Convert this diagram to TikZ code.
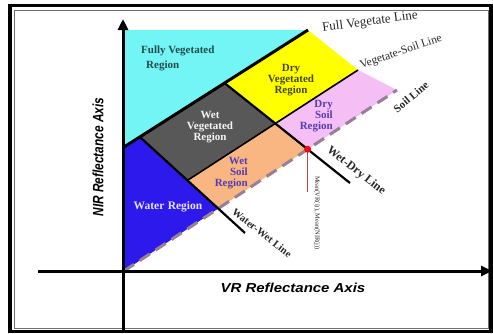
\documentclass[tikz,border=0pt]{standalone}
\usepackage{fontspec}
\setmainfont{Liberation Serif}
\setsansfont{Liberation Sans}
\usetikzlibrary{arrows.meta}
\definecolor{cyanR}{RGB}{115,245,245}
\definecolor{yellowR}{RGB}{255,255,0}
\definecolor{pinkR}{RGB}{245,190,245}
\definecolor{grayR}{RGB}{88,88,88}
\definecolor{orangeR}{RGB}{250,182,130}
\definecolor{blueR}{RGB}{45,25,235}
\definecolor{soilC}{RGB}{150,128,150}
\definecolor{redL}{RGB}{200,70,70}
\definecolor{redD}{RGB}{235,10,10}
\definecolor{fvText}{RGB}{35,75,75}
\definecolor{dvText}{RGB}{70,70,20}
\definecolor{soilText}{RGB}{85,60,175}
\definecolor{lineText}{RGB}{40,40,40}
\definecolor{frameIn}{RGB}{110,110,110}
\tikzset{
  blackline/.style={draw=black, line width=2.2pt},
  soilline/.style={draw=soilC, line width=3pt, dash pattern=on 12pt off 7pt},
  axisline/.style={draw=black, line width=3pt, -{Triangle[length=11pt,width=10pt]}},
  regtext/.style={font=\fontsize{11}{11}\selectfont\bfseries, inner sep=0pt},
  linetext/.style={text=lineText, inner sep=0pt},
  axtext/.style={inner sep=0pt}
}
\begin{document}
\begin{tikzpicture}[x=1pt,y=-1pt]
\useasboundingbox (0,0) rectangle (493,333);
\fill[white] (0,0) rectangle (493,333);
% frame
\draw[line width=3.5pt] (10,5.5) rectangle (491,331.5);
\draw[frameIn, line width=0.8pt] (14,10) rectangle (488,328.5);
% construction coordinates
\coordinate (TL) at (124,30);
\coordinate (F1) at (124,147);
\coordinate (F2) at (308,30);
\coordinate (V1) at (188,180);
\coordinate (V2) at (358,70);
\coordinate (S1) at (124,271);
\coordinate (S2) at (397,90);
\coordinate (W1) at (187,180);
\coordinate (W2) at (245,233);
\coordinate (D1) at (227,85);
\coordinate (D2) at (350,183);
\coordinate (WF) at (intersection of F1--F2 and W1--W2);
\coordinate (WV) at (intersection of V1--V2 and W1--W2);
\coordinate (WS) at (intersection of S1--S2 and W1--W2);
\coordinate (DF) at (intersection of F1--F2 and D1--D2);
\coordinate (DV) at (intersection of V1--V2 and D1--D2);
\coordinate (DS) at (intersection of S1--S2 and D1--D2);
% regions
\fill[cyanR] (TL) -- (F2) -- (F1) -- cycle;
\fill[yellowR] (DF) -- (F2) -- (V2) -- (DV) -- cycle;
\fill[pinkR] (DV) -- (V2) -- (S2) -- (DS) -- cycle;
\fill[grayR] (WF) -- (DF) -- (DV) -- (WV) -- cycle;
\fill[orangeR] (WV) -- (DV) -- (DS) -- (WS) -- cycle;
\fill[blueR] (F1) -- (WF) -- (WS) -- (S1) -- cycle;
% lines
\draw[soilline] (S1) -- (S2);
\draw[blackline, line width=3pt] (F1) -- (F2);
\draw[blackline, line width=1.6pt] (WV) -- (V2);
\draw[blackline] (WF) -- (W2);
\draw[blackline] (DF) -- (D2);
% mean marker
\path (DS) ++(0,43) coordinate (Rbot);
\draw[redL, line width=1.2pt] (DS) -- (Rbot);
\fill[redD] (DS) circle (3.5);
% axes
\coordinate (Ybot) at (123,333);
\coordinate (Ytop) at (123,19);
\coordinate (Xl) at (38,271);
\coordinate (Xr) at (492,271);
\draw[axisline] (Ybot) -- (Ytop);
\draw[axisline] (Xl) -- (Xr);
% region labels
\node[regtext, text=fvText, anchor=west] (fv1) at (141,51) {Fully Vegetated};
\node[regtext, text=fvText, anchor=west] (fv2) at (146,66) {Region};
\node[regtext, text=white!92!gray, align=center] (wv) at (210,127) {Wet\\Vegetated\\Region};
\node[regtext, text=dvText, align=center] (dv) at (291,80) {Dry\\Vegetated\\Region};
\node[regtext, text=soilText, align=right, anchor=east] (ds) at (333,116) {Dry\\Soil\\Region};
\node[regtext, text=soilText, align=right, anchor=east] (ws) at (248,173) {Wet\\Soil\\Region};
\node[regtext, font=\fontsize{11.5}{11}\selectfont\bfseries, text=white!90!blue] (wr) at (168,207) {Water\hspace{0.3em}Region};
% line labels
\node[linetext, font=\fontsize{13}{13}\selectfont, rotate=7.5] (lfv) at (370,22) {Full Vegetate Line};
\node[linetext, font=\fontsize{11.5}{11.5}\selectfont, rotate=19] (lvs) at (401,52) {Vegetate-Soil Line};
\node[linetext, font=\fontsize{11}{11}\selectfont\bfseries, rotate=40] (lsl) at (411,97) {Soil Line};
\node[linetext, font=\fontsize{12}{12}\selectfont\bfseries, rotate=-38] (lwd) at (356,171) {Wet-Dry Line};
\node[linetext, font=\fontsize{10.5}{10.5}\selectfont\bfseries, rotate=-38] (lww) at (262,233) {Water-Wet Line};
\node[linetext, font=\fontsize{6.5}{6.5}\selectfont, rotate=-90] (mean) at (317,213) {Mean(VR(i)), Mean(NIR(j))};
% axis labels
\node[axtext, font=\sffamily\bfseries\itshape\fontsize{15}{15}\selectfont, rotate=90, xscale=0.79] (nir) at (98,157) {NIR Reflectance Axis};
\node[axtext, font=\sffamily\bfseries\itshape\fontsize{13}{13}\selectfont, xscale=1.15] (vr) at (293,288) {VR Reflectance Axis};
\end{tikzpicture}
\end{document}
